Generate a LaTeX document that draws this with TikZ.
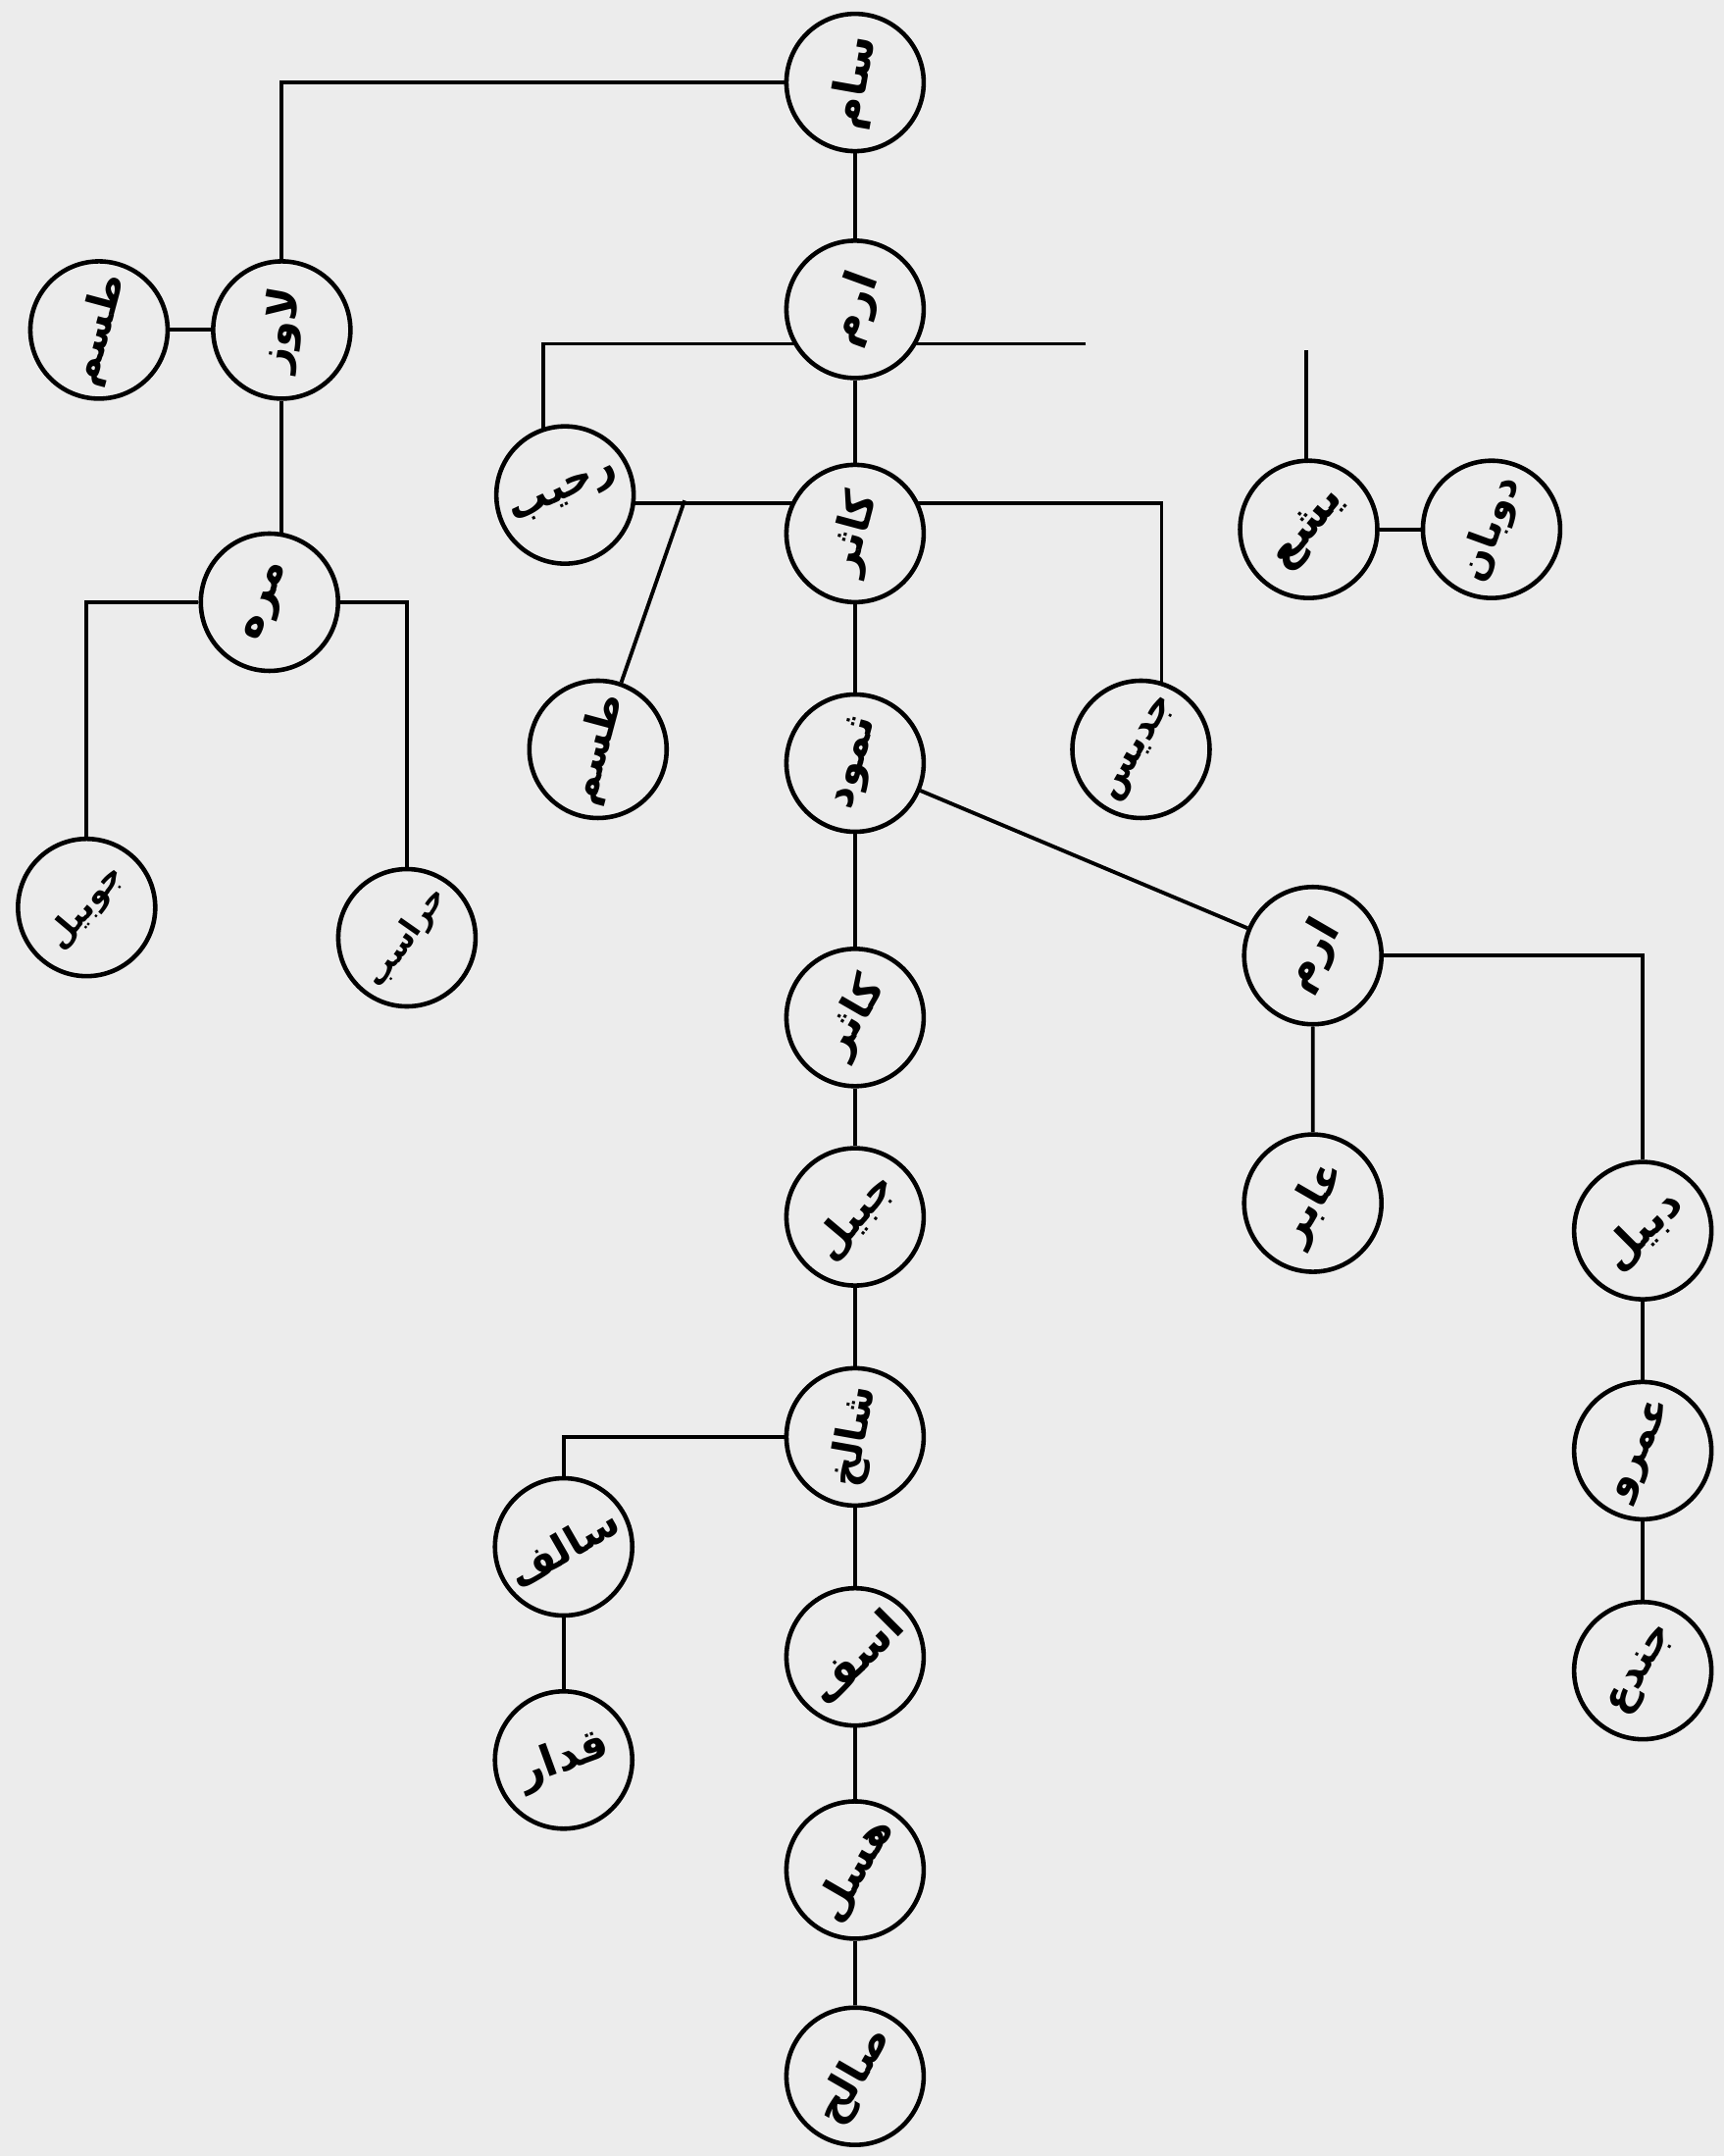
\documentclass[tikz,border=0pt]{standalone}
\usepackage{fontspec}
\usepackage{graphicx}
\usepackage{xcolor}
\usepackage{tikz}
\usetikzlibrary{positioning, calc, backgrounds}
\newfontfamily\arabicfont[Script=Arabic]{DejaVu Sans}
\TeXXeTstate=1
\definecolor{scan}{HTML}{ECECEC}
% #1 rotation, #2 font size, #3 name
\newcommand{\lbl}[3][65]{\makebox[0pt]{\raisebox{\dimexpr(\depth-\height)/2\relax}[0pt][0pt]{\rotatebox[origin=c]{#1}{\arabicfont\bfseries\fontsize{#2}{#2}\selectfont\beginR #3\endR}}}}
\pgfdeclarelayer{sheet}
\pgfsetlayers{sheet,background,main}

\begin{document}
\begin{tikzpicture}[x=0.1402mm, y=-0.1402mm]
		\tikzstyle{person}=[draw=black, circle, line width=1.3pt, minimum size=14mm, inner sep=0pt, fill=scan, text=black]
		\tikzstyle{link}=[line width=1.1pt, black]
		
		\begin{pgfonlayer}{sheet}
		\fill [scan] (0,0) rectangle (1254,1568);
		\end{pgfonlayer}
		
		% left branch
		\node (sam) at (622,60) [person] {\lbl[80]{13}{سام}};
		\node (lawaz) at (205,240) [person] {\lbl[80]{12.5}{لاوز}};
		\node (tasma) at (72,240) [person] {\lbl[75]{12}{طسم}};
		\node (murra) at (196,438) [person] {\lbl[70]{13}{مره}};
		\node (jubil) at (63,660) [person] {\lbl[50]{9.5}{جوبیل}};
		\node (harasib) at (296,682) [person] {\lbl[55]{9}{حراسب}};
		
		% middle
		\node (aram) at (622,225) [person] {\lbl[70]{13}{ارم}};
		\node (rahib) at (411,360) [person] {\lbl[25]{12}{رحیب}};
		\node (kasir) at (622,388) [person] {\lbl[75]{12.5}{کاثر}};
		\node (tasmb) at (435,545) [person] {\lbl[75]{12}{طسم}};
		\node (jadis) at (830,545) [person] {\lbl[60]{11}{جدیس}};
		\node (samud) at (622,555) [person] {\lbl[75]{12.5}{ثمود}};
		\node (kasirb) at (622,740) [person] {\lbl[60]{12.5}{کاثر}};
		\node (jabil) at (622,885) [person] {\lbl[50]{12}{جبیل}};
		\node (shalikh) at (622,1045) [person] {\lbl[80]{12}{شالخ}};
		\node (salif) at (410,1125) [person] {\lbl[30]{12}{سالف}};
		\node (qidar) at (410,1280) [person] {\lbl[20]{12.5}{قدار}};
		\node (asaf) at (622,1205) [person] {\lbl[45]{13}{اسف}};
		\node (hasl) at (622,1360) [person] {\lbl[60]{12.5}{هسل}};
		\node (salih) at (622,1510) [person] {\lbl[60]{12.5}{صالح}};
		
		% right branch
		\node (yashu) at (952,385) [person] {\lbl[50]{13}{یشع}};
		\node (duban) at (1085,385) [person] {\lbl[70]{11.5}{دوبان}};
		\node (aramb) at (955,695) [person] {\lbl[60]{13}{ارم}};
		\node (abir) at (955,875) [person] {\lbl[60]{12.5}{عابر}};
		\node (dabil) at (1195,895) [person] {\lbl[45]{12.5}{دبیل}};
		\node (amr) at (1195,1055) [person] {\lbl[65]{12}{عمرو}};
		\node (jundu) at (1195,1215) [person] {\lbl[60]{12}{جندع}};
		
		\coordinate (aramL) at (395,250);
		\coordinate (aramR) at (790,250);
		\coordinate (yashuTop) at (950,255);
		\coordinate (fork) at (498,364);
		\coordinate (jadisTurn) at (845,366);
		
		\begin{scope}[on background layer]
		\draw [link] (sam) -| (lawaz);
		\draw [link] (tasma) -- (lawaz);
		\draw [link] (lawaz) -- (lawaz |- murra);
		\draw [link] (jubil) |- (murra) -| (harasib);
		\draw [link] (aramR) -- (aramL) -- (aramL |- rahib);
		\draw [link] (yashuTop) -- (yashuTop |- yashu);
		\draw [link] (yashu) -- (duban);
		\draw [link] (rahib.center |- jadisTurn) -- (jadisTurn) -- (jadisTurn |- jadis);
		\draw [link] (fork) -- (tasmb);
		\draw [link] (sam) -- (aram) -- (kasir) -- (samud) -- (kasirb) -- (jabil) -- (shalikh) -- (asaf) -- (hasl) -- (salih);
		\draw [link] (samud) -- (aramb) -- (abir);
		\draw [link] (aramb) -| (dabil) -- (amr) -- (jundu);
		\draw [link] (shalikh) -| (salif) -- (qidar);
		\end{scope}
\end{tikzpicture}
\end{document}
